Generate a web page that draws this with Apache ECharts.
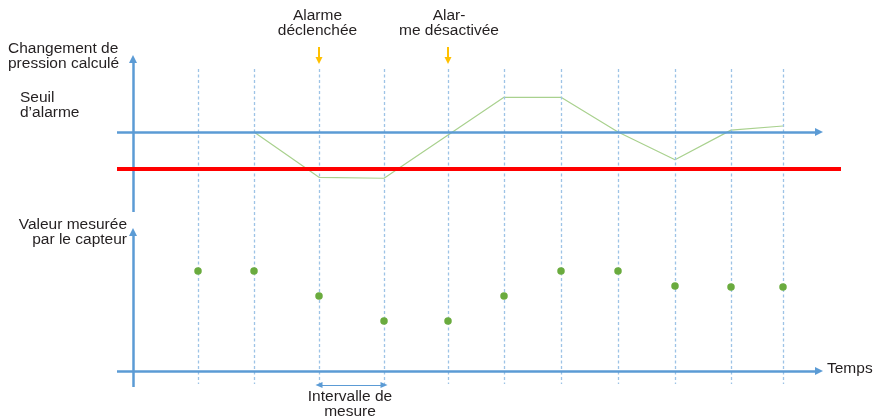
<!DOCTYPE html>
<html><head><meta charset="utf-8">
<script src="https://cdn.jsdelivr.net/npm/echarts@6/dist/echarts.min.js"></script>
<style>html,body{margin:0;padding:0;background:#fff}#c{width:876px;height:418px}</style>
</head><body><div id="c"></div>
<script>
// Measurement instants (time units along "Temps")
const measureTimes = [6.5, 12.1, 18.6, 25.1, 31.5, 37.1, 42.8, 48.5, 54.2, 59.8, 65.0];
// Sensor readings ("Valeur mesurée par le capteur")
const measuredValues = [20, 20, 15, 10, 10, 15, 20, 20, 17, 16.8, 16.8];
// Calculated pressure change ("Changement de pression calculé")
const pressureTimes = [12.1, 18.6, 25.1, 37.1, 42.8, 48.5, 54.2, 59.8, 65.0];
const pressureValues = [0, -4.9, -5.0, 3.75, 3.75, 0, -3.0, 0.2, 0.65];
// Alarm threshold ("Seuil d'alarme")
const alarmThreshold = [-4];
// Alarm events: index of measurement where alarm on / off
const alarmEventIdx = [2, 4];
const alarmLabels = ['Alarme\ndéclenchée', 'Alar-\nme désactivée'];
// Axis-line extents (data units)
const timeAxisExtent = [-1.6, 68.6];
const thresholdExtent = [-1.6, 70.8];
const pressureAxisExtent = [-8.65, 7.9];
const measuredAxisExtent = [-3.2, 27.8];
const guideExtent = [6.81, -27.24];
const alarmArrowExtent = [9.19, 7.73];
const intervalLevel = [-2.8];

const BLUE = '#5b9bd5';
const chart = echarts.init(document.getElementById('c'), null, {renderer: 'canvas'});
const FONT = '"Liberation Sans", Arial, Helvetica, sans-serif';
const txt = (text, x, y, align) => ({
  type: 'text', x: x, y: y, silent: true,
  style: {text: text, fill: '#231f20', fontSize: 15.5, fontFamily: FONT, lineHeight: 15, align: align, verticalAlign: 'top'}
});
const ml = (data, lineStyle, symbol, symbolSize) => ({
  silent: true, animation: false, symbol: symbol || 'none', symbolSize: symbolSize || 8,
  label: {show: false}, emphasis: {disabled: true}, lineStyle: lineStyle, data: data
});

const option = {
  animation: false,
  grid: {left: 117, top: 39.5, width: 724, height: 351.5},
  xAxis: {type: 'value', min: -1.6, max: 70.8, show: false},
  yAxis: [
    {type: 'value', min: -28, max: 10, show: false},
    {type: 'value', min: -4, max: 66.3, show: false}
  ],
  graphic: [
    txt('Changement de\npression calculé', 8, 40.8, 'left'),
    txt('Seuil\nd\u2019alarme', 20, 90, 'left'),
    txt('Valeur mesurée\npar le capteur', 127, 217.5, 'right'),
    txt('Intervalle de\nmesure', 350, 389, 'center'),
    txt('Temps', 827, 361.7, 'left'),
    txt(alarmLabels[0], 317.5, 8.3, 'center'),
    txt(alarmLabels[1], 449, 8.3, 'center')
  ],
  series: [
    { // dashed measurement guides
      type: 'line', xAxisIndex: 0, yAxisIndex: 0, data: [], z: 1,
      markLine: ml(measureTimes.map(t => [{coord: [t, guideExtent[0]]}, {coord: [t, guideExtent[1]]}]),
        {color: '#9dc3e6', width: 1.3, type: [3, 2.5], opacity: 1})
    },
    { // top axes
      type: 'line', xAxisIndex: 0, yAxisIndex: 0, data: [], z: 2,
      markLine: ml([
        [{coord: [timeAxisExtent[0], 0]}, {coord: [timeAxisExtent[1], 0]}],
        [{coord: [0, pressureAxisExtent[0]]}, {coord: [0, pressureAxisExtent[1]]}]
      ], {color: BLUE, width: 2.5, type: 'solid'}, ['none', 'triangle'], [8, 8])
    },
    { // threshold
      type: 'line', xAxisIndex: 0, yAxisIndex: 0, data: [], z: 3,
      markLine: ml([[{coord: [thresholdExtent[0], alarmThreshold[0]]}, {coord: [thresholdExtent[1], alarmThreshold[0]]}]],
        {color: '#ff0000', width: 4, type: 'solid'})
    },
    { // alarm arrows
      type: 'line', xAxisIndex: 0, yAxisIndex: 0, data: [], z: 3,
      markLine: ml(alarmEventIdx.map(i => [{coord: [measureTimes[i], alarmArrowExtent[0]]}, {coord: [measureTimes[i], alarmArrowExtent[1]]}]),
        {color: '#ffc000', width: 2, type: 'solid'}, ['none', 'triangle'], [7, 7])
    },
    { // pressure change line
      type: 'line', xAxisIndex: 0, yAxisIndex: 0, z: 4,
      data: pressureTimes.map((t, i) => [t, pressureValues[i]]),
      showSymbol: false, symbol: 'none',
      lineStyle: {color: '#a9d18e', width: 1.2}
    },
    { // bottom axes + interval arrow
      type: 'line', xAxisIndex: 0, yAxisIndex: 1, data: [], z: 2,
      markLine: ml([
        [{coord: [timeAxisExtent[0], 0]}, {coord: [timeAxisExtent[1], 0]}],
        [{coord: [0, measuredAxisExtent[0]]}, {coord: [0, measuredAxisExtent[1]]}]
      ], {color: BLUE, width: 2.5, type: 'solid'}, ['none', 'triangle'], [8, 8])
    },
    {
      type: 'line', xAxisIndex: 0, yAxisIndex: 1, data: [], z: 2,
      markLine: ml([[{coord: [measureTimes[2], intervalLevel[0]]}, {coord: [measureTimes[3], intervalLevel[0]]}]],
        {color: BLUE, width: 1, type: 'solid'}, ['triangle', 'triangle'], [6, 7])
    },
    { // sensor readings
      type: 'scatter', xAxisIndex: 0, yAxisIndex: 1, z: 5,
      data: measureTimes.map((t, i) => [t, measuredValues[i]]),
      symbol: 'circle', symbolSize: 7.5,
      itemStyle: {color: '#6aab3e', opacity: 1}
    }
  ]
};
chart.setOption(option);
</script>
</body></html>
